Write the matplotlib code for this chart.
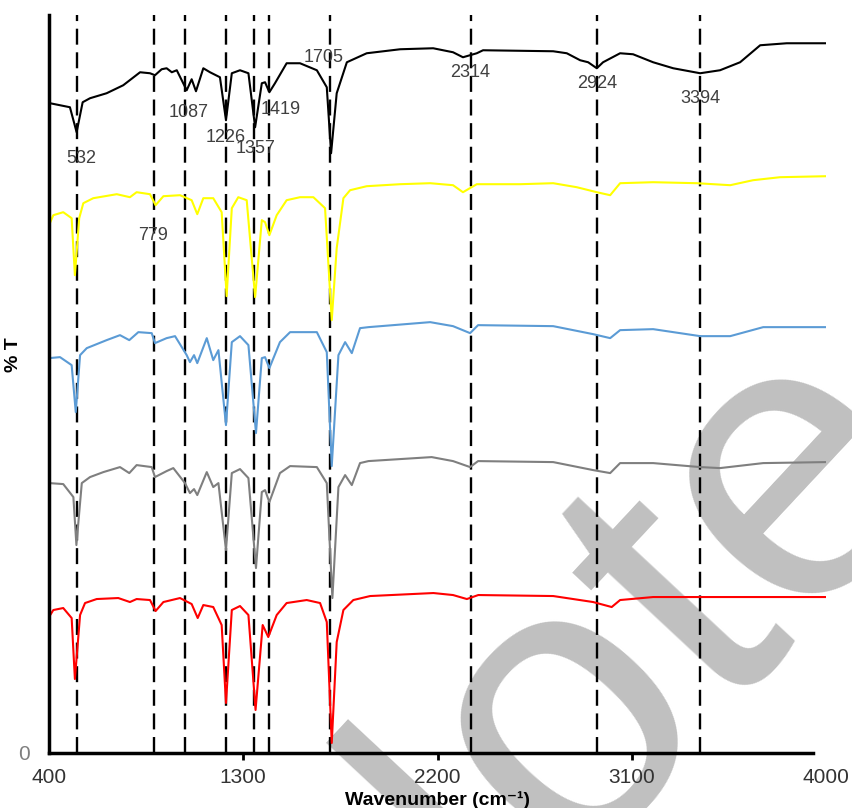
import matplotlib.pyplot as plt

plt.rcParams['font.family'] = ['Liberation Sans', 'DejaVu Sans']
plt.rcParams['lines.scale_dashes'] = False

# spectra (wavenumber cm-1, offset %T in arbitrary units, 0 at x axis)
black_wn = [405, 497, 528, 556, 590, 667, 744, 822, 868, 891, 922, 945, 969, 992, 1038, 1061, 1081,
            1115, 1146, 1192, 1220, 1247, 1285, 1324, 1355, 1386, 1401, 1421, 1447, 1501, 1563, 1641,
            1687, 1707, 1733, 1780, 1872, 2027, 2180, 2272, 2318, 2382, 2411, 2736, 2799, 2861, 2898,
            2938, 2967, 3046, 3106, 3199, 3292, 3417, 3509, 3602, 3695, 3818, 3894, 4000]
black_t = [650, 646, 621, 651, 655, 660, 668, 681, 680, 678, 684, 685, 681, 683, 663, 674, 662,
           685, 681, 676, 633, 680, 683, 680, 626, 670, 671, 661, 670, 690, 690, 683,
           666, 600, 660, 691, 700, 704, 705, 701, 696, 700, 703, 702, 700, 693, 691,
           685, 691, 700, 699, 691, 685, 680, 683, 691, 708, 710, 710, 710]

yellow_wn = [400, 420, 466, 505, 520, 540, 559, 605, 714, 775, 806, 868, 894, 930, 1007, 1061, 1087,
             1115, 1161, 1200, 1223, 1247, 1277, 1316, 1355, 1386, 1401, 1421, 1455, 1501, 1563, 1625,
             1679, 1710, 1733, 1764, 1795, 1872, 2027, 2166, 2272, 2318, 2382, 2583, 2736, 2845, 2938,
             3000, 3046, 3199, 3401, 3556, 3662, 3787, 4000]
yellow_t = [528, 538, 541, 535, 478, 535, 550, 555, 559, 556, 561, 559, 548, 557, 558, 553, 539,
            555, 555, 541, 457, 545, 556, 553, 456, 533, 531, 518, 538, 553, 556, 556,
            545, 433, 505, 555, 563, 567, 569, 570, 568, 561, 569, 569, 570, 566, 561,
            558, 570, 571, 570, 568, 573, 576, 577]

blue_wn = [400, 451, 505, 524, 544, 575, 667, 729, 772, 814, 876, 891, 945, 984, 1038, 1053, 1072,
           1087, 1131, 1161, 1185, 1220, 1247, 1285, 1324, 1359, 1386, 1401, 1421, 1470, 1517, 1641,
           1687, 1710, 1741, 1772, 1803, 1841, 1880, 2166, 2272, 2351, 2388, 2736, 2921, 3000, 3046,
           3199, 3417, 3556, 3709, 4000]
blue_t = [395, 396, 388, 341, 398, 405, 413, 418, 413, 421, 420, 410, 415, 417, 398, 391, 398,
          390, 415, 393, 403, 328, 411, 417, 408, 320, 395, 396, 385, 411, 421, 421,
          401, 287, 398, 411, 400, 425, 426, 431, 427, 420, 428, 427, 419, 415, 423,
          424, 417, 417, 426, 426]

gray_wn = [400, 466, 513, 527, 552, 590, 652, 729, 772, 806, 876, 891, 945, 976, 1030, 1053, 1072,
           1087, 1131, 1161, 1185, 1220, 1247, 1285, 1324, 1359, 1386, 1401, 1421, 1470, 1517, 1641,
           1687, 1713, 1741, 1772, 1803, 1841, 1880, 2173, 2272, 2351, 2388, 2736, 2921, 3000, 3046,
           3199, 3417, 3509, 3709, 4000]
gray_t = [270, 269, 256, 208, 270, 276, 281, 286, 280, 288, 286, 276, 282, 285, 270, 260, 264,
          258, 281, 266, 270, 203, 280, 284, 275, 185, 261, 263, 251, 280, 287, 286,
          270, 155, 266, 278, 268, 290, 292, 296, 292, 286, 292, 291, 283, 280, 290,
          290, 286, 285, 290, 291]

red_wn = [400, 420, 466, 505, 520, 544, 567, 621, 721, 775, 806, 868, 894, 930, 1007, 1061, 1089,
          1115, 1161, 1200, 1220, 1247, 1285, 1324, 1357, 1390, 1416, 1455, 1501, 1594, 1656, 1687,
          1710, 1733, 1764, 1810, 1888, 2181, 2272, 2336, 2389, 2736, 2921, 3007, 3046, 3199, 3417, 4000]
red_t = [136, 143, 145, 135, 74, 138, 150, 154, 155, 151, 154, 153, 142, 151, 155, 149, 135,
         148, 146, 128, 50, 143, 147, 138, 43, 128, 116, 138, 150, 153, 150, 131,
         10, 111, 143, 153, 157, 160, 158, 154, 158, 157, 151, 146, 153, 156, 156, 156]

# marked bands: where the dashed lines sit, and their labels
band_lines = [532, 887, 1030, 1222, 1352, 1421, 1704, 2354, 2939, 3417]
band_labels = ['532', '779', '1087', '1226', '1357', '1419', '1705', '2314', '2924', '3394']
label_wn = [548, 882, 1049, 1218, 1359, 1475, 1674, 2351, 2938, 3417]
label_t = [595, 518, 641, 616, 605, 644, 696, 681, 670, 655]

fig = plt.figure(figsize=(8.52, 8.08), dpi=100)

# watermark behind the plot
fig.text(0.766, 0.058, 'Note', fontsize=288, color='#c0c0c0', rotation=47,
         rotation_mode='anchor', ha='center', va='baseline', zorder=-5)

ax = fig.add_axes([0.0575, 0.0681, 0.912, 0.913])
ax.patch.set_alpha(0)

for x in band_lines:
    ax.axvline(x, color='black', lw=1.7, dashes=(11.5, 5.5), zorder=1)

ax.plot(black_wn, black_t, color='black', lw=1.5, zorder=2)
ax.plot(yellow_wn, yellow_t, color='#ffff00', lw=1.5, zorder=2)
ax.plot(blue_wn, blue_t, color='#5b9bd5', lw=1.5, zorder=2)
ax.plot(gray_wn, gray_t, color='#7f7f7f', lw=1.5, zorder=2)
ax.plot(red_wn, red_t, color='#ff0000', lw=1.5, zorder=2)

for lab, x, y in zip(band_labels, label_wn, label_t):
    ax.text(x, y, lab, fontsize=13, color='#404040', ha='center', va='center', zorder=3)

ax.set_xlim(400, 4000)
ax.set_ylim(0, 738)
ax.set_xticks([400, 1300, 2200, 3100, 4000])
ax.set_yticks([0])
ax.tick_params(axis='x', labelsize=15, labelcolor='#333333', direction='out', length=5,
               width=2, pad=6)
ax.tick_params(axis='y', labelsize=15, labelcolor='#7f7f7f', length=0, pad=14)
ax.xaxis.get_major_ticks()[0].tick1line.set_visible(False)
ax.xaxis.get_major_ticks()[-1].tick1line.set_visible(False)

for s in ['top', 'right']:
    ax.spines[s].set_visible(False)
ax.spines['left'].set_linewidth(2.5)
ax.spines['bottom'].set_linewidth(2.5)
ax.spines['bottom'].set_bounds(400, 3940)

ax.set_xlabel('Wavenumber (cm⁻¹)', fontsize=14, fontweight='bold')
ax.xaxis.set_label_coords(0.5, -0.052)
ax.set_ylabel('% T', fontsize=14, fontweight='bold')
ax.yaxis.set_label_coords(-0.035, 0.54)

fig.savefig('out.png', dpi=100)
